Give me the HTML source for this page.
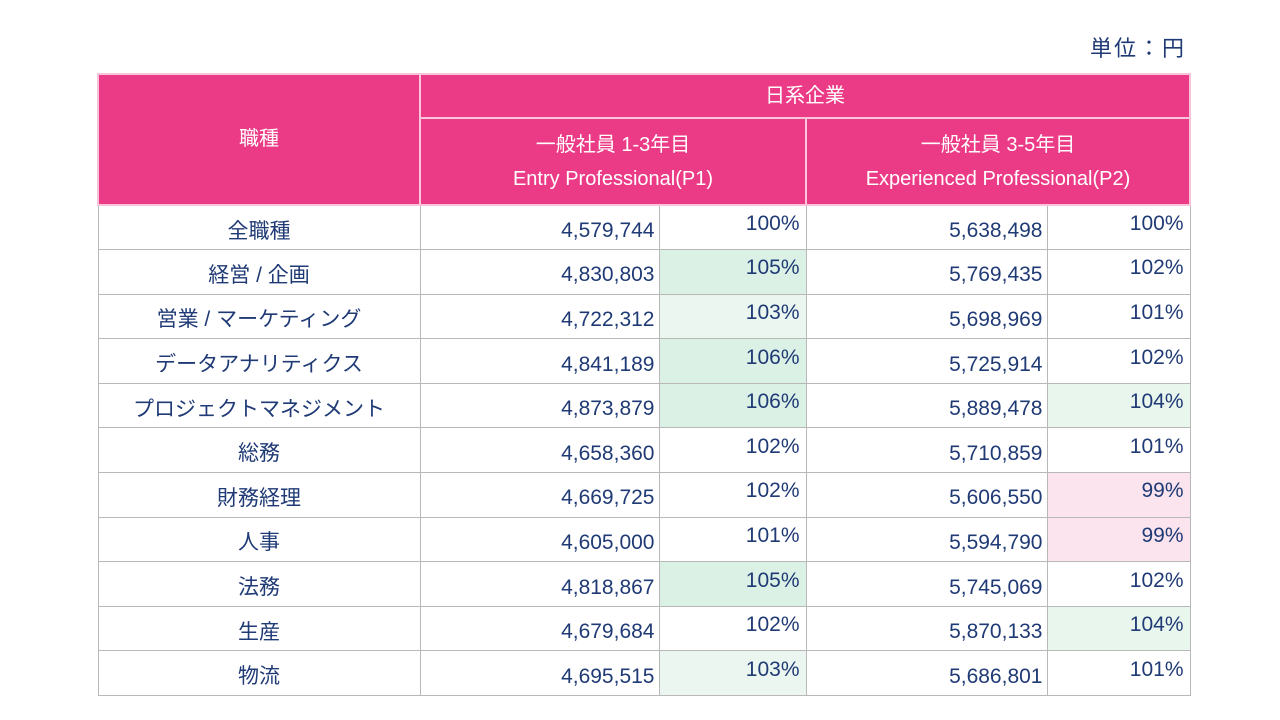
<!DOCTYPE html>
<html><head><meta charset="utf-8"><style>
body{margin:0;width:1280px;height:720px;background:#fff;position:relative;overflow:hidden;font-family:"Liberation Sans","Noto Sans CJK JP",sans-serif;}
.unit{position:absolute;left:1090px;top:36px;font-size:22px;letter-spacing:2px;color:#1f3a75;line-height:26px;}
table{position:absolute;left:97px;top:73px;border-collapse:collapse;table-layout:fixed;}
td,th{padding:0;font-weight:normal;}
th{background:#ec3b86;color:#fff;font-size:20px;border:2px solid #f7c4da;line-height:24px;}
tbody tr{height:44.6px;}
td{border:1.5px solid #b8b8b8;color:#1f3a75;font-size:21px;line-height:22px;height:0;}
td.lab{text-align:center;padding-top:8px;}
td.num{text-align:right;padding-right:4px;padding-top:7px;}
td.pct{text-align:right;padding-right:6px;padding-bottom:7px;}
</style></head><body>
<div class="unit">単位：円</div>
<table>
<colgroup><col style="width:322px"><col style="width:239px"><col style="width:147px"><col style="width:241px"><col style="width:143px"></colgroup>
<thead>
<tr style="height:44px"><th rowspan="2" style="vertical-align:top;padding-top:52px">職種</th><th colspan="4">日系企業</th></tr>
<tr style="height:87px"><th colspan="2" style="line-height:34px">一般社員 1-3年目<br>Entry Professional(P1)</th><th colspan="2" style="line-height:34px">一般社員 3-5年目<br>Experienced Professional(P2)</th></tr>
</thead>
<tbody id="tb"></tbody>
</table>
<script>
const jobs=["全職種","経営 / 企画","営業 / マーケティング","データアナリティクス","プロジェクトマネジメント","総務","財務経理","人事","法務","生産","物流"];
const p1=[4579744,4830803,4722312,4841189,4873879,4658360,4669725,4605000,4818867,4679684,4695515];
const p1pct=[100,105,103,106,106,102,102,101,105,102,103];
const p2=[5638498,5769435,5698969,5725914,5889478,5710859,5606550,5594790,5745069,5870133,5686801];
const p2pct=[100,102,101,102,104,101,99,99,102,104,101];
function bg(p){if(p>=105)return"#dcf1e5";if(p>=103)return p==103?"#eaf6ef":"#e9f6ee";if(p<100)return"#fbe4ee";return"#fff";}
const tb=document.getElementById('tb');
const fmt=n=>n.toLocaleString('en-US');
jobs.forEach((j,i)=>{
 const tr=document.createElement('tr');
 
 
 const cells=[[j,'lab',null],[fmt(p1[i]),'num',null],[p1pct[i]+'%','pct',p1pct[i]],[fmt(p2[i]),'num',null],[p2pct[i]+'%','pct',p2pct[i]]];
 const names=['job-name','p1-salary','p1-ratio','p2-salary','p2-ratio'];
 cells.forEach((c,k)=>{
  const td=document.createElement('td');
  td.className=c[1];td.textContent=c[0];
  if(c[2]!==null)td.style.background=bg(c[2]);
  
  
  tr.appendChild(td);
 });
 tb.appendChild(tr);
});
</script>
</body></html>
